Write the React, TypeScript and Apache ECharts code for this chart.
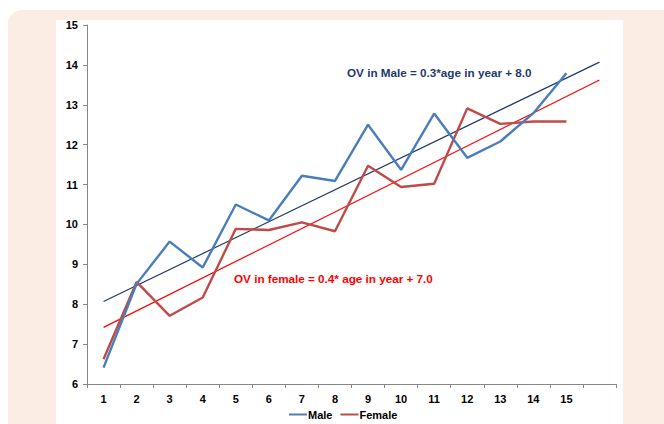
import React, { useEffect, useRef } from "react";
import * as echarts from "echarts";

const categories = ["1", "2", "3", "4", "5", "6", "7", "8", "9", "10", "11", "12", "13", "14", "15", ""];
const maleValues = [6.41, 8.51, 9.57, 8.92, 10.5, 10.1, 11.22, 11.09, 12.5, 11.37, 12.78, 11.67, 12.08, 12.79, 13.79];
const femaleValues = [6.62, 8.56, 7.71, 8.17, 9.89, 9.86, 10.05, 9.83, 11.47, 10.94, 11.02, 12.91, 12.52, 12.58, 12.58];
// trend lines: [start at category "1", end at last slot]
const maleTrend = [8.07, 14.07];
const femaleTrend = [7.42, 13.62];
const maleLabel = "OV in Male = 0.3*age in year + 8.0";
const femaleLabel = "OV in female = 0.4* age in year + 7.0";

const FONT = "Liberation Sans, Arial, sans-serif";

export default function App() {
  const ref = useRef<HTMLDivElement>(null);
  useEffect(() => {
    document.body.style.margin = "0";
    if (!ref.current) return;
    const chart = echarts.init(ref.current, undefined, { renderer: "svg" });
    const last = categories.length - 1;
    chart.setOption({
      animation: false,
      textStyle: { fontFamily: FONT },
      grid: { left: 87, right: 48, top: 25, bottom: 40, containLabel: false },
      legend: {
        data: ["Male", "Female"],
        bottom: -1,
        left: 284,
        itemWidth: 18,
        itemHeight: 10,
        itemGap: 8,
        icon: "path://M0,4 L18,4 L18,6 L0,6 Z",
        textStyle: { fontWeight: "bold", fontSize: 11, color: "#000", fontFamily: FONT, padding: [0, 0, 0, -4] },
      },
      xAxis: {
        type: "category",
        data: categories,
        boundaryGap: true,
        axisLine: { lineStyle: { color: "#868686", width: 1 } },
        axisTick: { show: true, length: 4, lineStyle: { color: "#868686" } },
        axisLabel: { fontWeight: "bold", fontSize: 11, color: "#000", margin: 9, fontFamily: FONT },
        splitLine: { show: false },
      },
      yAxis: {
        type: "value",
        min: 6,
        max: 15,
        interval: 1,
        axisLine: { show: true, lineStyle: { color: "#868686", width: 1 } },
        axisTick: { show: true, length: 4, lineStyle: { color: "#868686" } },
        axisLabel: { fontWeight: "bold", fontSize: 11, color: "#000", margin: 9, fontFamily: FONT },
        splitLine: { show: false },
      },
      series: [
        {
          name: "MaleTrend",
          type: "line",
          data: [[0, maleTrend[0]], [last, maleTrend[1]]],
          showSymbol: false,
          symbol: "none",
          lineStyle: { color: "#1F3A6E", width: 1.2 },
          z: 1,
        },
        {
          name: "FemaleTrend",
          type: "line",
          data: [[0, femaleTrend[0]], [last, femaleTrend[1]]],
          showSymbol: false,
          symbol: "none",
          lineStyle: { color: "#FF0000", width: 1.2 },
          z: 1,
        },
        {
          name: "Male",
          type: "line",
          data: maleValues,
          symbol: "none",
          itemStyle: { color: "#4A7EBB" },
          lineStyle: { color: "#4A7EBB", width: 2.4 },
          z: 3,
        },
        {
          name: "Female",
          type: "line",
          data: femaleValues,
          symbol: "none",
          itemStyle: { color: "#BE4B48" },
          lineStyle: { color: "#BE4B48", width: 2.4 },
          z: 2,
        },
      ],
      graphic: [
        {
          type: "text",
          left: 347,
          top: 66,
          style: { text: maleLabel, fill: "#1F3A6E", font: `bold 11.7px ${FONT}` },
        },
        {
          type: "text",
          left: 234,
          top: 272,
          style: { text: femaleLabel, fill: "#FF0000", font: `bold 11.7px ${FONT}` },
        },
      ],
    });
    return () => chart.dispose();
  }, []);

  return (
    <div style={{ position: "relative", width: 664, height: 424, background: "#ffffff", overflow: "hidden" }}>
      <div
        style={{
          position: "absolute",
          left: 8,
          top: 10,
          width: 680,
          height: 440,
          background: "#FBEDE3",
          borderTopLeftRadius: 14,
        }}
      />
      <div style={{ position: "absolute", left: 56, top: 20, width: 567, height: 420, background: "#ffffff" }} />
      <div ref={ref} style={{ position: "absolute", left: 0, top: 0, width: 664, height: 424 }} />
    </div>
  );
}
